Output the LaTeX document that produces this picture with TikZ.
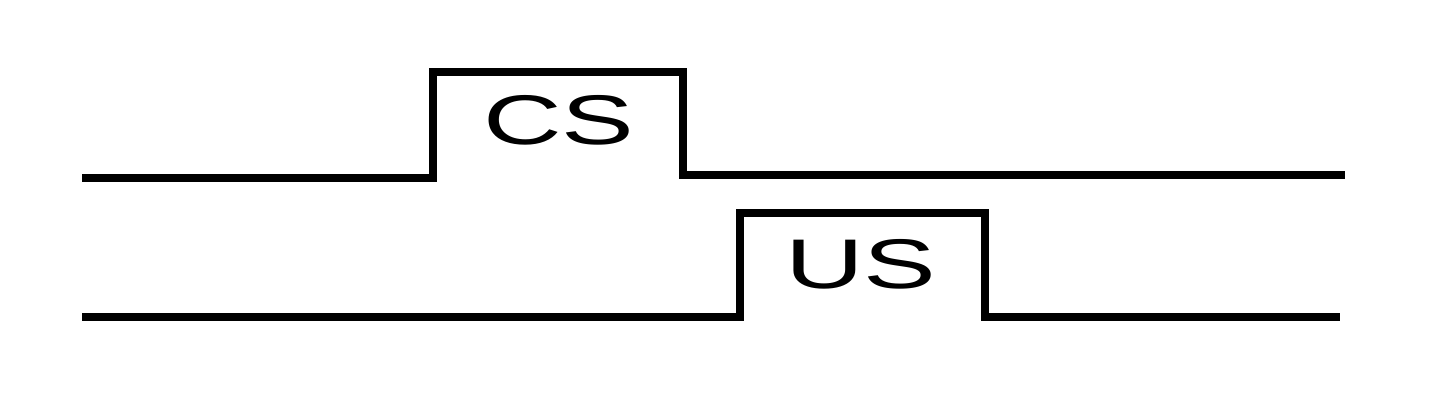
\documentclass[tikz,border=0pt]{standalone}
\usepackage{fontspec}
\setmainfont{Liberation Sans}
\usetikzlibrary{positioning}

\begin{document}
\begin{tikzpicture}[
  wave/.style={line width=2.2pt, line join=miter},
  lbl/.style={font=\fontsize{20}{24}\selectfont, inner sep=0pt, xscale=1.55, transform shape}
]
\useasboundingbox (0,0) rectangle (14.4,4.03);

% conditioned stimulus
\draw[wave] (0.82,2.25) -- (4.33,2.25) -- (4.33,3.31) -- (6.83,3.31) -- (6.83,2.28) -- (13.45,2.28);
\node[lbl] (cs) at (5.59,2.83) {CS};

% unconditioned stimulus
\draw[wave] (0.82,0.86) -- (7.40,0.86) -- (7.40,1.90) -- (9.85,1.90) -- (9.85,0.86) -- (13.40,0.86);
\node[lbl] (us) at (8.61,1.39) {US};

\end{tikzpicture}
\end{document}
